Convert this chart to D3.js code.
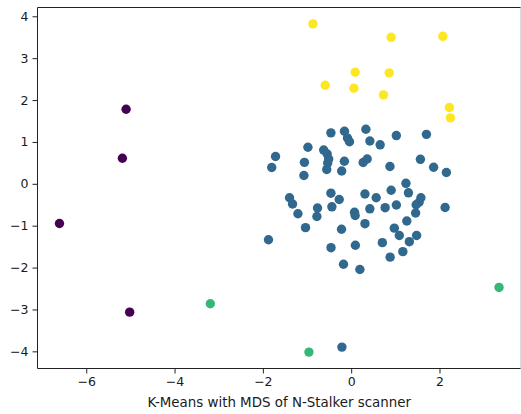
<!DOCTYPE html>
<html>
<head>
<meta charset="utf-8">
<script src="https://cdn.jsdelivr.net/npm/d3@7"></script>
<style>
  html, body { margin: 0; padding: 0; background: #fff; }
  svg { display: block; }
  text { font-family: "DejaVu Sans", sans-serif; fill: #1a1a1a; }
</style>
</head>
<body>
<svg id="chart" width="521" height="414"></svg>
<script>
// MDS coordinates grouped by K-Means cluster label
const cluster0 = [ // purple
  [-5.097, 1.780], [-5.181, 0.611], [-6.606, -0.947], [-5.016, -3.064]
];
const cluster1 = [ // blue (main group)
  [-0.459, 1.217], [-0.152, 1.255], [0.333, 1.303], [-0.084, 1.093], [-0.038, 1.005],
  [0.423, 1.021], [0.656, 0.931], [1.023, 1.152], [1.704, 1.181], [-0.980, 0.873],
  [-1.713, 0.651], [-1.799, 0.389], [-1.059, 0.513], [-1.070, 0.198], [-0.622, 0.806],
  [-0.543, 0.711], [-0.509, 0.592], [-0.532, 0.496], [-0.554, 0.341], [-0.154, 0.539],
  [-0.215, 0.305], [0.271, 0.508], [0.362, 0.592], [0.878, 0.413], [1.568, 0.585],
  [1.867, 0.396], [2.156, 0.270], [1.240, 0.012], [1.296, -0.215], [0.905, -0.153],
  [0.312, -0.243], [0.566, -0.332], [-0.459, -0.224], [-0.271, -0.375], [-1.396, -0.332],
  [-1.328, -0.482], [-1.206, -0.716], [-0.762, -0.577], [-0.776, -0.780], [-0.437, -0.549],
  [0.075, -0.678], [0.090, -0.756], [0.423, -0.597], [0.769, -0.570], [1.023, -0.506],
  [1.579, -0.334], [1.538, -0.441], [1.471, -0.501], [1.459, -0.697], [2.127, -0.566],
  [-1.034, -1.047], [-0.219, -1.086], [0.312, -0.952], [0.977, -1.059], [1.090, -1.234],
  [1.260, -0.888], [1.482, -1.234], [1.317, -1.382], [0.706, -1.405], [1.170, -1.620],
  [0.882, -1.751], [0.095, -1.467], [-0.457, -1.525], [-1.873, -1.336], [-0.174, -1.921],
  [0.197, -2.045], [-0.210, -3.899]
];
const cluster2 = [ // green
  [-3.190, -2.863], [3.348, -2.474], [-0.957, -4.018]
];
const cluster3 = [ // yellow
  [-0.867, 3.818], [0.905, 3.498], [2.075, 3.522], [0.090, 2.663], [0.860, 2.649],
  [-0.588, 2.353], [0.061, 2.281], [0.731, 2.124], [2.224, 1.821], [2.247, 1.575]
];
const clusterColors = ["#440154", "#31688e", "#35b779", "#fde725"];
const xTicks = [-6, -4, -2, 0, 2];
const yTicks = [-4, -3, -2, -1, 0, 1, 2, 3, 4];
const xLabel = "K-Means with MDS of N-Stalker scanner";

const clusters = [cluster0, cluster1, cluster2, cluster3];
const points = clusters.flatMap((pts, k) => pts.map(([x, y]) => ({ x, y, k })));

// axis limits padded by 5% of the data span on each side
function padded(values) {
  const [lo, hi] = d3.extent(values);
  const m = (hi - lo) * 0.05;
  return [lo - m, hi + m];
}

const plot = { left: 37.5, right: 521, top: 7.5, bottom: 368.5 };
const x = d3.scaleLinear().domain(padded(points.map(p => p.x))).range([plot.left, plot.right]);
const y = d3.scaleLinear().domain(padded(points.map(p => p.y))).range([plot.bottom, plot.top]);

const svg = d3.select("#chart");
const minus = v => d3.format("d")(v).replace("-", "\u2212");

// points
svg.append("g")
  .selectAll("circle")
  .data(points)
  .join("circle")
  .attr("cx", d => x(d.x))
  .attr("cy", d => y(d.y))
  .attr("r", 4.7)
  .attr("fill", d => clusterColors[d.k]);

// spines
const spines = svg.append("g").attr("fill", "none").attr("stroke-width", 1);
spines.append("line").attr("x1", plot.left).attr("x2", plot.left).attr("y1", plot.top).attr("y2", plot.bottom).attr("stroke", "#222");
spines.append("line").attr("x1", plot.left).attr("x2", plot.right).attr("y1", plot.bottom).attr("y2", plot.bottom).attr("stroke", "#222");
spines.append("line").attr("x1", plot.left).attr("x2", plot.right).attr("y1", plot.top).attr("y2", plot.top).attr("stroke", "#222");
spines.append("line").attr("x1", 520.5).attr("x2", 520.5).attr("y1", plot.top).attr("y2", plot.bottom).attr("stroke", "#ddd");

// x axis
const xAxis = d3.axisBottom(x).tickValues(xTicks).tickFormat(minus).tickSize(5).tickPadding(4);
const gx = svg.append("g").attr("transform", `translate(0,${plot.bottom})`).call(xAxis);
// y axis
const yAxis = d3.axisLeft(y).tickValues(yTicks).tickFormat(minus).tickSize(5).tickPadding(4);
const gy = svg.append("g").attr("transform", `translate(${plot.left},0)`).call(yAxis);

[gx, gy].forEach(g => {
  g.select(".domain").remove();
  g.selectAll(".tick line").attr("stroke", "#222");
  g.selectAll(".tick text")
    .attr("fill", "#1a1a1a")
    .style("font-family", '"DejaVu Sans", sans-serif')
    .style("font-size", "12.5px");
});

// x label
svg.append("text")
  .attr("x", (plot.left + plot.right) / 2)
  .attr("y", 406.5)
  .attr("text-anchor", "middle")
  .style("font-size", "13.4px")
  .text(xLabel);
</script>
</body>
</html>
